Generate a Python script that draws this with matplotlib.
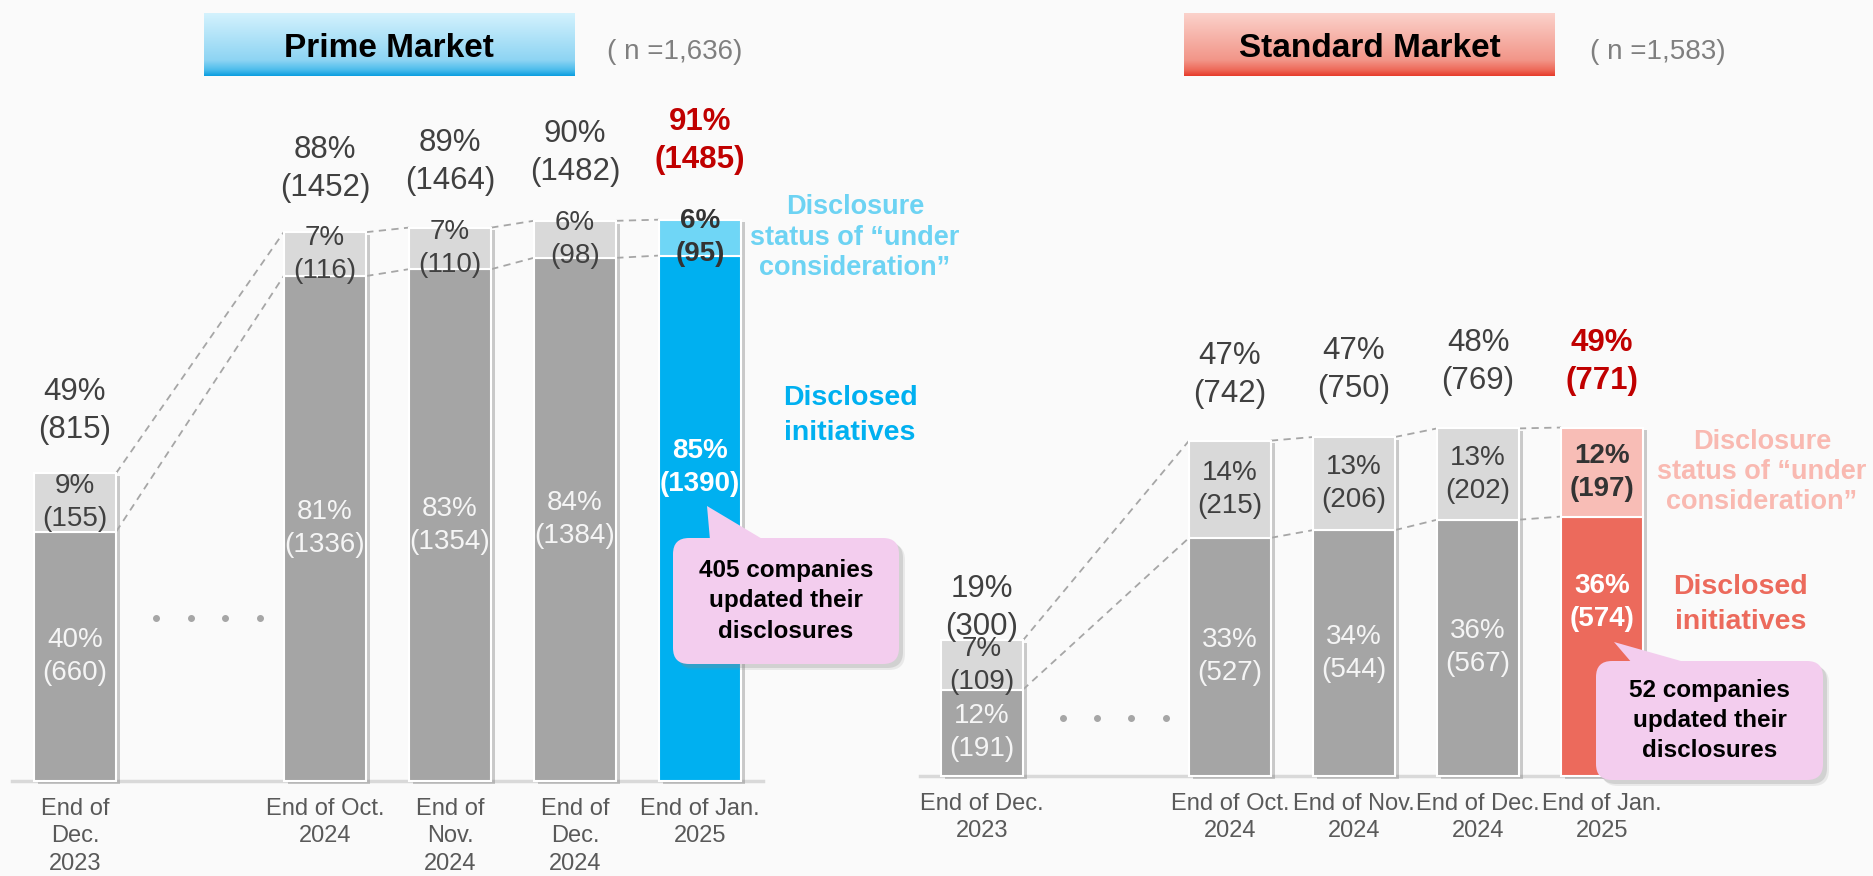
import numpy as np
import matplotlib.pyplot as plt
import matplotlib.patheffects as pe
from matplotlib.patches import FancyBboxPatch, Polygon
from matplotlib.colors import LinearSegmentedColormap
from matplotlib.transforms import Affine2D

plt.rcParams['font.family'] = ['Liberation Sans', 'DejaVu Sans']

# ---- data ----
positions = [0, 2, 3, 4, 5]   # gap after the first month

prime_ticks = ["End of\nDec.\n2023", "End of Oct.\n2024", "End of\nNov.\n2024",
               "End of\nDec.\n2024", "End of Jan.\n2025"]
prime_disclosed = [660, 1336, 1354, 1384, 1390]
prime_consider = [155, 116, 110, 98, 95]
prime_total = [815, 1452, 1464, 1482, 1485]
prime_disclosed_pct = [40, 81, 83, 84, 85]
prime_consider_pct = [9, 7, 7, 6, 6]
prime_total_pct = [49, 88, 89, 90, 91]
prime_n = "1,636"
prime_updated = 405

std_ticks = ["End of Dec.\n2023", "End of Oct.\n2024", "End of Nov.\n2024",
             "End of Dec.\n2024", "End of Jan.\n2025"]
std_disclosed = [191, 527, 544, 567, 574]
std_consider = [109, 215, 206, 202, 197]
std_total = [300, 742, 750, 769, 771]
std_disclosed_pct = [12, 33, 34, 36, 36]
std_consider_pct = [7, 14, 13, 13, 12]
std_total_pct = [19, 47, 47, 48, 49]
std_n = "1,583"
std_updated = 52

W, H = 1873, 876
fig = plt.figure(figsize=(W / 100, H / 100), dpi=100, facecolor='#fafafa')
# pixel coords with origin at top-left, for the boxes and callouts
PX = Affine2D().scale(1.0 / W, -1.0 / H).translate(0, 1) + fig.transFigure

GRAY_D = '#a5a5a5'
GRAY_C = '#d9d9d9'
TXT = '#404040'
BW = 0.66


def draw_panel(left, width, x0, unit, base, k, disc, cons, tot, dpct, cpct, tpct,
               ticks, hi_d, hi_c, lab_c, lab_d, top_off, last_frac, init_frac,
               dx_status, dx_init, dots_y):
    ax = fig.add_axes([left / W, 0, width / W, 1])
    ax.set_xlim(-(x0 - left) / unit, (left + width - x0) / unit)
    ax.set_ylim(-(H - base) / k, base / k)
    ax.set_axis_off()

    cd = [GRAY_D] * (len(disc) - 1) + [hi_d]
    cc = [GRAY_C] * (len(disc) - 1) + [hi_c]
    # soft shadow behind each full bar
    sh = ax.bar(positions, tot, width=BW, color='none', zorder=2)
    for p in sh:
        p.set_path_effects([pe.SimplePatchShadow(offset=(3, -2), shadow_rgbFace='#808080', alpha=0.4)])
    ax.bar(positions, disc, width=BW, color=cd, edgecolor='white', linewidth=1.5, zorder=3)
    ax.bar(positions, cons, bottom=disc, width=BW, color=cc, edgecolor='white', linewidth=1.5, zorder=3)

    ax.plot([positions[0] - 0.5, positions[-1] + 0.5], [0, 0], color='#d9d9d9', lw=2.5, zorder=1)

    # dashed connectors between neighbouring bars
    for i in range(len(positions) - 1):
        xa, xb = positions[i] + BW / 2, positions[i + 1] - BW / 2
        for s in (tot, disc):
            ax.plot([xa, xb], [s[i], s[i + 1]], color='#a6a6a6', lw=1.3,
                    ls=(0, (4, 3)), zorder=2)

    ax.plot(np.linspace(0.65, 1.48, 4), [dots_y] * 4, 'o', color='#a6a6a6', ms=4, zorder=2)

    last = len(positions) - 1
    for i, x in enumerate(positions):
        hl = i == last
        ax.annotate(f"{tpct[i]}%\n({tot[i]})", xy=(x, tot[i]), xytext=(0, top_off[i]),
                    textcoords='offset points', ha='center', va='bottom', fontsize=22.5,
                    color='#c00000' if hl else TXT, fontweight='bold' if hl else 'normal',
                    linespacing=1.35, zorder=4)
        ax.text(x, disc[i] + cons[i] / 2, f"{cpct[i]}%\n({cons[i]})", ha='center', va='center',
                fontsize=20, color='#333333' if hl else TXT,
                fontweight='bold' if hl else 'normal', linespacing=1.35, zorder=4)
        yd = disc[i] * (last_frac if hl else 0.5)
        ax.text(x, yd, f"{dpct[i]}%\n({disc[i]})", ha='center', va='center', fontsize=20,
                color='white' if hl else '#f5f5f5', fontweight='bold' if hl else 'normal',
                linespacing=1.35, zorder=4)
        ax.annotate(ticks[i], xy=(x, 0), xytext=(0, -12), textcoords='offset points',
                    ha='center', va='top', fontsize=17, color='#595959', linespacing=1.34)

    ax.text(positions[-1] + dx_status, disc[-1] + cons[-1] / 2,
            "Disclosure\nstatus of \u201cunder\nconsideration\u201d", ha='center', va='center',
            fontsize=19.5, fontweight='bold', color=lab_c, linespacing=1.22)
    ax.text(positions[-1] + dx_init, disc[-1] * init_frac, "Disclosed\ninitiatives",
            ha='center', va='center', fontsize=20.5, fontweight='bold', color=lab_d,
            linespacing=1.45)
    return ax


def title_box(x0, y0, x1, y1, stops, text, n, nx):
    tax = fig.add_axes([x0 / W, 1 - y1 / H, (x1 - x0) / W, (y1 - y0) / H])
    cmap = LinearSegmentedColormap.from_list('g', stops)
    tax.imshow(np.linspace(0, 1, 256).reshape(-1, 1), aspect='auto', cmap=cmap)
    tax.set_axis_off()
    tax.text(0.5, 0.30, text, transform=tax.transAxes, ha='center', va='baseline',
             fontsize=24, fontweight='bold', color='black')
    fig.text(nx, 52, f"( n ={n})", transform=PX,
             ha='left', va='center', fontsize=20, color='#7f7f7f')


def callout(box, tip, b1, b2, text):
    x0, y0, x1, y1 = box
    for off, a in ((6, 0.15), (4, 0.25)):
        fig.add_artist(FancyBboxPatch((x0 + off, y0 + off), x1 - x0, y1 - y0,
                                      boxstyle="round,pad=0,rounding_size=16", transform=PX,
                                      fc='#8a8a8a', ec='none', alpha=a, zorder=5))
    fig.add_artist(FancyBboxPatch((x0, y0), x1 - x0, y1 - y0,
                                  boxstyle="round,pad=0,rounding_size=16", transform=PX,
                                  fc='#f3cdee', ec='none', zorder=6))
    fig.add_artist(Polygon([tip, (b1, y0 + 2), (b2, y0 + 2)], closed=True, transform=PX,
                           fc='#f3cdee', ec='none', zorder=6))
    fig.text((x0 + x1) / 2, (y0 + y1) / 2, text, transform=PX, ha='center', va='center',
             fontsize=17.5, fontweight='bold', color='black', linespacing=1.4, zorder=7)


draw_panel(0, 940, 75, 125, 781, 0.378, prime_disclosed, prime_consider, prime_total,
           prime_disclosed_pct, prime_consider_pct, prime_total_pct, prime_ticks,
           '#00b0f0', '#6fd6f6', '#6dd3f3', '#00b0f0',
           [20, 21, 23, 24, 32], 0.596, 0.695, 1.24, 1.2, 431)

draw_panel(900, 973, 982, 124, 776, 0.452, std_disclosed, std_consider, std_total,
           std_disclosed_pct, std_consider_pct, std_total_pct, std_ticks,
           '#ec6a5c', '#f8bdb6', '#f9b9b1', '#ec6a5c',
           [-1, 23, 24, 23, 23], 0.67, 0.66, 1.29, 1.12, 128)

title_box(204, 13, 574, 76,
          [(0, '#d4f2fd'), (0.75, '#8dd4f3'), (0.9, '#4dbdec'), (1, '#0a9de0')],
          "Prime Market", prime_n, 607)
title_box(1184, 13, 1555, 76,
          [(0, '#fbd2cb'), (0.75, '#f29588'), (0.9, '#ee6a5a'), (1, '#e63a2a')],
          "Standard Market", std_n, 1590)

callout((673, 538, 899, 664), (707, 506), 710, 764,
        f"{prime_updated} companies\nupdated their\ndisclosures")
callout((1596, 661, 1823, 780), (1614, 642), 1632, 1688,
        f"{std_updated} companies\nupdated their\ndisclosures")

fig.savefig('out.png', dpi=100, facecolor=fig.get_facecolor())
